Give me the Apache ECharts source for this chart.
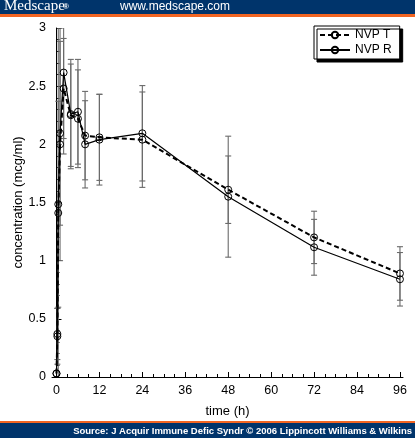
<!DOCTYPE html>
<html>
<head>
<meta charset="utf-8">
<script src="https://cdn.jsdelivr.net/npm/echarts@6/dist/echarts.min.js"></script>
<style>
html,body{margin:0;padding:0;background:#fff;}
#c{width:415px;height:438px;}
</style>
</head>
<body>
<div id="c"></div>
<script>
// ---- data ----
const times = [0, 0.25, 0.5, 1, 2, 4, 6, 8, 12, 24, 48, 72, 96];
const nvpT = [0.03, 0.35, 1.41, 2.0, 2.48, 2.25, 2.22, 2.075, 2.06, 2.04, 1.61, 1.20, 0.89];
const nvpR = [0.03, 0.37, 1.485, 2.095, 2.617, 2.26, 2.28, 2.0, 2.04, 2.095, 1.55, 1.115, 0.84];
const sdT = [0, 0.24, 1.7, 1.0, 0.43, 0.44, 0.42, 0.38, 0.37, 0.41, 0.29, 0.225, 0.23];
const sdR = [0, 0.22, 0.885, 0.79, 0.7, 0.47, 0.45, 0.375, 0.39, 0.41, 0.52, 0.24, 0.23];
const xMajorTicks = [0, 12, 24, 36, 48, 60, 72, 84, 96];
const xMinorTicks = [0, 3, 6, 9, 12, 15, 18, 21, 24, 27, 30, 33, 36, 39, 42, 45, 48, 51, 54, 57, 60, 63, 66, 69, 72, 75, 78, 81, 84, 87, 90, 93, 96];
const seriesNames = ['NVP T', 'NVP R'];
const headerSite = 'www.medscape.com';
const footerText = 'Source: J Acquir Immune Defic Syndr \u00a9 2006 Lippincott Williams & Wilkins';

const FONT = 'Liberation Sans, Arial, sans-serif';
const chart = echarts.init(document.getElementById('c'), null, {renderer: 'canvas'});

function pairs(vals){ return times.map((t,i)=>[t, vals[i]]); }
function triples(vals, sds){ return times.map((t,i)=>[t, vals[i], sds[i]]); }

function errRender(params, api){
  const x = api.value(0), y = api.value(1), s = api.value(2);
  if (!s) return null;
  const top = api.coord([x, y + s]);
  const bot = api.coord([x, y - s]);
  const w = 3;
  const st = {stroke: '#6a6a6a', lineWidth: 1.1};
  return {
    type: 'group',
    children: [
      {type: 'line', shape: {x1: top[0], y1: top[1], x2: bot[0], y2: bot[1]}, style: st},
      {type: 'line', shape: {x1: top[0]-w, y1: top[1], x2: top[0]+w, y2: top[1]}, style: st},
      {type: 'line', shape: {x1: bot[0]-w, y1: bot[1], x2: bot[0]+w, y2: bot[1]}, style: st}
    ]
  };
}

const option = {
  backgroundColor: '#fff',
  animation: false,
  textStyle: {fontFamily: FONT},
  grid: {left: 52, right: 12, top: 28, bottom: 61, containLabel: false, outerBoundsMode: 'none'},
  legend: {
    data: seriesNames,
    orient: 'vertical',
    left: 314, top: 26,
    itemWidth: 30, itemHeight: 8, itemGap: 3,
    padding: [3, 8, 3, 5],
    textStyle: {fontFamily: FONT, fontSize: 12, color: '#000'},
    backgroundColor: '#fff',
    borderColor: '#000', borderWidth: 1,
    shadowColor: '#000', shadowBlur: 0, shadowOffsetX: 3, shadowOffsetY: 3
  },
  xAxis: [{
    type: 'value', min: -1.25, max: 96.85,
    name: 'time (h)', nameLocation: 'middle', nameGap: 28, nameMoveOverlap: false,
    nameTextStyle: {fontFamily: FONT, fontSize: 13, color: '#000'},
    axisLine: {show: true, lineStyle: {color: '#000', width: 1}},
    axisTick: {show: true, inside: true, length: 5, customValues: xMajorTicks, lineStyle: {color: '#000'}},
    axisLabel: {customValues: xMajorTicks, margin: 7, fontFamily: FONT, fontSize: 12.5, color: '#000'},
    splitLine: {show: false}
  }, {
    type: 'value', min: -1.25, max: 96.85, position: 'bottom',
    axisLine: {show: false},
    axisTick: {show: true, inside: true, length: 3, customValues: xMinorTicks, lineStyle: {color: '#000'}},
    axisLabel: {show: false},
    splitLine: {show: false}
  }],
  yAxis: {
    type: 'value', min: 0, max: 3, interval: 0.5,
    name: 'concentration (mcg/ml)', nameLocation: 'middle', nameGap: 27, nameMoveOverlap: false,
    nameTextStyle: {fontFamily: FONT, fontSize: 13, color: '#000'},
    axisLine: {show: true, lineStyle: {color: '#000', width: 1}},
    axisTick: {show: true, inside: true, length: 5, lineStyle: {color: '#000'}},
    minorTick: {show: true, splitNumber: 5, length: 3, lineStyle: {color: '#000'}},
    axisLabel: {margin: 6, fontFamily: FONT, fontSize: 12.5, color: '#000'},
    splitLine: {show: false}
  },
  series: [
    {type: 'custom', name: 'errT', renderItem: errRender, data: triples(nvpT, sdT), clip: true, z: 1, encode: {x: 0, y: 1}},
    {type: 'custom', name: 'errR', renderItem: errRender, data: triples(nvpR, sdR), clip: true, z: 1, encode: {x: 0, y: 1}},
    {
      type: 'line', name: seriesNames[0], data: pairs(nvpT), z: 3,
      symbol: 'circle', symbolSize: 7, showAllSymbol: true,
      lineStyle: {color: '#000', width: 2, type: [5, 3]},
      itemStyle: {color: 'rgba(255,255,255,0)', borderColor: '#000', borderWidth: 1}
    },
    {
      type: 'line', name: seriesNames[1], data: pairs(nvpR), z: 3,
      symbol: 'circle', symbolSize: 7, showAllSymbol: true,
      lineStyle: {color: '#000', width: 1.2, type: 'solid'},
      itemStyle: {color: 'rgba(255,255,255,0)', borderColor: '#000', borderWidth: 1}
    }
  ],
  graphic: [
    {type: 'rect', left: 0, top: 0, shape: {width: 415, height: 14}, style: {fill: '#00346b'}, silent: true},
    {type: 'rect', left: 0, top: 14, shape: {width: 415, height: 3}, style: {fill: '#f26522'}, silent: true},
    {type: 'text', left: 4, top: -1, style: {text: 'Medscape', fill: '#fff', font: '15px "Liberation Serif", "DejaVu Serif", serif'}},
    {type: 'text', left: 63, top: 3, style: {text: '\u00ae', fill: '#fff', font: 'bold 8px "Liberation Sans", sans-serif'}},
    {type: 'text', left: 120, top: 1, style: {text: headerSite, fill: '#fff', font: '12px "Liberation Sans", Arial, sans-serif'}},
    {type: 'rect', left: 0, top: 421, shape: {width: 415, height: 2.5}, style: {fill: '#f26522'}, silent: true},
    {type: 'rect', left: 0, top: 423, shape: {width: 415, height: 15}, style: {fill: '#00346b'}, silent: true},
    {type: 'text', right: 3, top: 426, style: {text: footerText, fill: '#fff', font: 'bold 9.5px "Liberation Sans", Arial, sans-serif'}}
  ]
};
chart.setOption(option);
</script>
</body>
</html>
